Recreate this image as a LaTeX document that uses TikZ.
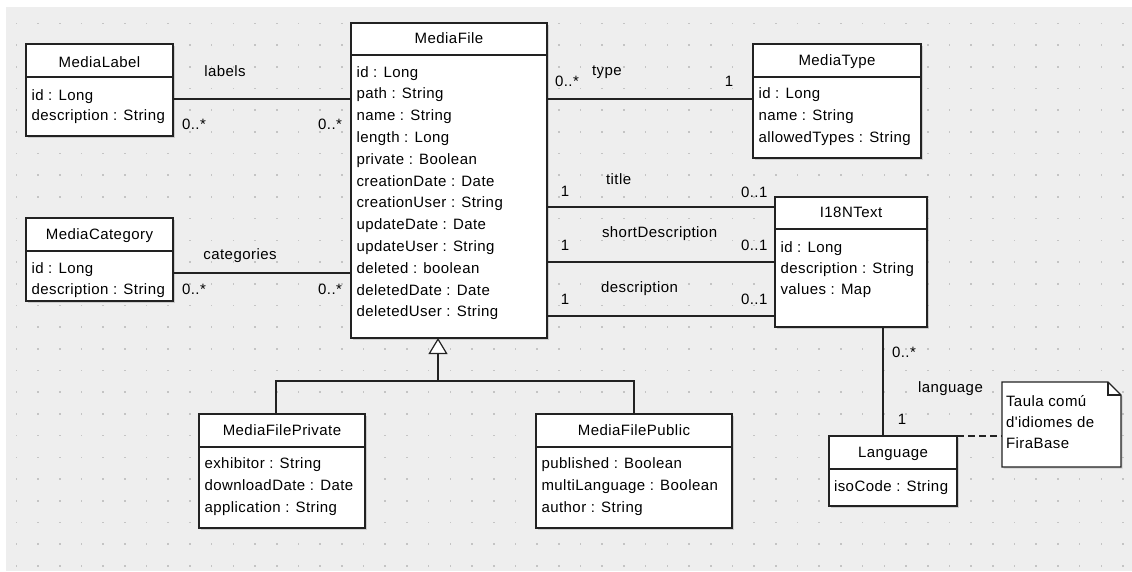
\documentclass[tikz,border=0pt]{standalone}
\usepackage{fontspec}
\newfontfamily\umlfont[LetterSpace=3]{Liberation Sans}
\usetikzlibrary{arrows.meta,shadows}
\definecolor{bgc}{HTML}{EEEEEE}
\definecolor{dotc}{HTML}{C4C4C4}
\definecolor{linec}{HTML}{222222}
\begin{document}
\begin{tikzpicture}[x=1pt,y=-1pt,
 cls/.style={draw=linec, line width=1.2pt, fill=white, inner sep=0, outer sep=0,
   drop shadow={shadow xshift=1.5pt,shadow yshift=-1.5pt,opacity=0.3}},
 hold/.style={inner sep=0, outer sep=0},
 txt/.style={font={\umlfont\fontsize{15}{18}\selectfont}, inner sep=0, outer sep=0, anchor=base west, text=black},
 ctxt/.style={txt, anchor=base},
 rtxt/.style={txt, anchor=base east},
 conn/.style={draw=linec, line width=1.2pt}]
\useasboundingbox (0,0) rectangle (1132,571);
\fill[bgc] (6,7) rectangle (1132,571);
\foreach \i in {0,...,51}{\foreach \j in {0,...,25}{%
  \fill[dotc] ({16.3+21.7*\i-0.8},{23.3+21.7*\j-0.8}) rectangle ++(1.6,1.6);}}

% ---------- classes ----------
\node[cls, minimum width=147pt, minimum height=92pt] (ml) at (99.5,90) {};
\node[cls, minimum width=196pt, minimum height=315pt] (mf) at (449,180.5) {};
\node[cls, minimum width=168pt, minimum height=114pt] (mt) at (837,101) {};
\node[cls, minimum width=147pt, minimum height=83pt] (mc) at (99.5,259.5) {};
\node[cls, minimum width=152pt, minimum height=130pt] (it) at (851,262) {};
\node[cls, minimum width=128pt, minimum height=70pt] (lg) at (893,471) {};
\node[cls, minimum width=166pt, minimum height=114pt] (mp) at (282,471) {};
\node[cls, minimum width=196pt, minimum height=114pt] (mu) at (634,471) {};

\foreach \n/\d in {ml/33,mf/32,mt/33,mc/33,it/32,lg/33,mp/33,mu/33}{
  \draw[conn] ([yshift=-\d pt]\n.north west) -- ([yshift=-\d pt]\n.north east);}

% titles
\node[ctxt] (tml) at (99.5,67) {MediaLabel};
\node[ctxt] (tmf) at (449,43) {MediaFile};
\node[ctxt] (tmt) at (837,65) {MediaType};
\node[ctxt] (tmc) at (99.5,239) {MediaCategory};
\node[ctxt] (tit) at (851,217) {I18NText};
\node[ctxt] (tlg) at (893,457) {Language};
\node[ctxt] (tmp) at (282,435) {MediaFilePrivate};
\node[ctxt] (tmu) at (634,435) {MediaFilePublic};

% attributes
\node[txt] (aml1) at (31.5,100) {id : Long};
\node[txt] (aml2) at (31.5,120) {description : String};
\node[txt] (amc1) at (31.5,273) {id : Long};
\node[txt] (amc2) at (31.5,294) {description : String};
\foreach \t [count=\k from 0] in {id : Long, path : String, name : String, length : Long,
  private : Boolean, creationDate : Date, creationUser : String, updateDate : Date,
  updateUser : String, deleted : boolean, deletedDate : Date, deletedUser : String}{
  \node[txt] (amf\k) at (356.5,{77+21.8*\k}) {\t};}
\node[txt] (amt1) at (758.5,98) {id : Long};
\node[txt] (amt2) at (758.5,120) {name : String};
\node[txt] (amt3) at (758.5,142) {allowedTypes : String};
\node[txt] (ait1) at (780.5,252) {id : Long};
\node[txt] (ait2) at (780.5,273) {description : String};
\node[txt] (ait3) at (780.5,294) {values : Map};
\node[txt] (alg1) at (834,491) {isoCode : String};
\node[txt] (amp1) at (204.5,468) {exhibitor : String};
\node[txt] (amp2) at (204.5,490) {downloadDate : Date};
\node[txt] (amp3) at (204.5,512) {application : String};
\node[txt] (amu1) at (541.5,468) {published : Boolean};
\node[txt] (amu2) at (541.5,490) {multiLanguage : Boolean};
\node[txt] (amu3) at (541.5,512) {author : String};

% ---------- note ----------
\node[hold, minimum width=119pt, minimum height=85pt] (nt) at (1061.5,424.5) {};
\draw[conn, fill=white, drop shadow={shadow xshift=1.5pt,shadow yshift=-1.5pt,opacity=0.3}]
  (nt.north west) -- ([xshift=-13pt]nt.north east) -- ([yshift=-13pt]nt.north east)
  -- (nt.south east) -- (nt.south west) -- cycle;
\draw[conn] ([xshift=-13pt]nt.north east) -- ([xshift=-13pt,yshift=-13pt]nt.north east)
  -- ([yshift=-13pt]nt.north east);
\node[txt] (nt1) at (1006,406) {Taula comú};
\node[txt] (nt2) at (1006,427) {d'idiomes de};
\node[txt] (nt3) at (1006,448) {FiraBase};

% ---------- connectors ----------
\coordinate (yl) at (0,99);
\coordinate (yc) at (0,273);
\coordinate (yt) at (0,207);
\coordinate (ys) at (0,262);
\coordinate (yd) at (0,316);
\coordinate (xl) at (883,0);
\draw[conn] (ml.east |- yl) -- (mf.west |- yl);
\draw[conn] (mc.east |- yc) -- (mf.west |- yc);
\draw[conn] (mf.east |- yl) -- (mt.west |- yl);
\draw[conn] (mf.east |- yt) -- (it.west |- yt);
\draw[conn] (mf.east |- ys) -- (it.west |- ys);
\draw[conn] (mf.east |- yd) -- (it.west |- yd);
\draw[conn] (it.south -| xl) -- (lg.north -| xl);
\draw[conn, dash pattern=on 7pt off 4pt] (lg.north east) -- (nt.west |- lg.north east);

\coordinate (gl) at (276,381);
\coordinate (gr) at (634,381);
\coordinate (gj) at (438,381);
\draw[conn] (mp.north -| gl) -- (gl) -- (gr) -- (mu.north -| gr);
\draw[conn, -{Triangle[length=16pt,width=19pt,fill=white]}] (gj) -- (mf.south -| gj);

% connector labels
\node[ctxt] (llab) at (225,76) {labels};
\node[txt] (lm1) at (182,129) {0..*};
\node[rtxt] (lm2) at (342,129) {0..*};
\node[ctxt] (lcat) at (240,259) {categories};
\node[txt] (lm3) at (182,294) {0..*};
\node[rtxt] (lm4) at (342,294) {0..*};
\node[txt] (lm5) at (555,86) {0..*};
\node[txt] (ltype) at (592,75) {type};
\node[ctxt] (lm6) at (729,86) {1};
\node[ctxt] (lm7) at (565,196) {1};
\node[txt] (ltitle) at (606,184) {title};
\node[txt] (lm8) at (741,197) {0..1};
\node[ctxt] (lm9) at (565,250) {1};
\node[txt] (lshort) at (602,237) {shortDescription};
\node[txt] (lm10) at (741,250) {0..1};
\node[ctxt] (lm11) at (565,304) {1};
\node[txt] (ldesc) at (601,292) {description};
\node[txt] (lm12) at (741,304) {0..1};
\node[txt] (lm13) at (892,357) {0..*};
\node[txt] (llang) at (918,392) {language};
\node[ctxt] (lm14) at (902,424) {1};
\end{tikzpicture}
\end{document}
